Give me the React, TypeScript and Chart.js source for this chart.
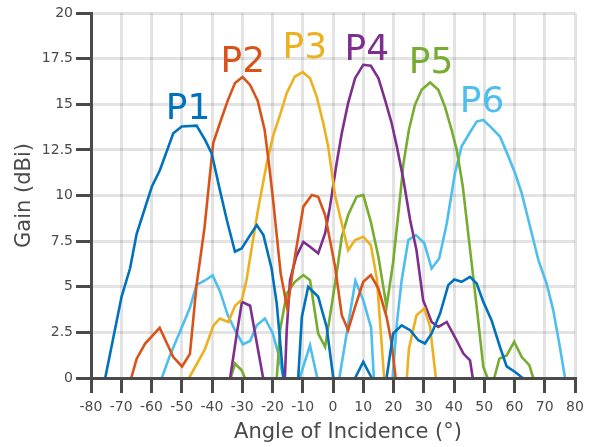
import React, { useEffect, useRef } from "react";
import { Chart, registerables } from "chart.js";

Chart.register(...registerables);

const seriesNames = ["P1", "P2", "P3", "P4", "P5", "P6"];
const seriesColors = ["#0072BD", "#D95319", "#EDB120", "#7E2F8E", "#77AC30", "#4DBEEE"];

// angle (deg) / gain (dBi); null gain = break in the curve
const p1Angle = [-75.3, -69.9, -67.1, -64.9, -59.9, -57.2, -52.8, -50.0, -45.1, -42.3, -40.1, -37.4, -35.1, -32.4, -30.2, -27.4, -25.2, -23.0, -20.3, -18.6, -16.4, -14, -11.5, -10.3, -8.2, -4.9, -2.1, 0.1, 3.5, 7.3, 10.0, 12.8, 15, 17.7, 19.9, 22.7, 25.5, 28.2, 30.4, 32.6, 35.4, 38.1, 40.1, 42.5, 45.3, 47.5, 49.7, 52.4, 55.2, 57.4, 60.2, 62.7];
const p1Gain = [0, 4.45, 6.0, 7.9, 10.48, 11.4, 13.41, 13.78, 13.83, 13.05, 12.3, 10.3, 8.66, 6.92, 7.1, 7.83, 8.38, 7.83, 6.0, 4.08, 0, null, 0, 3.35, 5.0, 4.45, 2.8, 0, null, 0, 0.88, 0, null, 0, 2.44, 2.89, 2.62, 2.07, 1.89, 2.44, 3.53, 5.09, 5.4, 5.27, 5.54, 5.18, 4.17, 3.17, 1.7, 0.64, 0.33, 0];

const p2Angle = [-66.7, -64.9, -62.1, -57.3, -52.8, -49.9, -47.3, -45.1, -42.5, -39.6, -37.4, -34.8, -32.4, -29.9, -27.4, -24.9, -22.6, -21.0, -19.7, -17.3, -15.1, -12.6, -9.8, -7.0, -4.9, -2.6, 0.7, 2.9, 5.0, 7.3, 10.0, 12.5, 15.0, 17.7, 19.4, 20.7];
const p2Gain = [0, 1.06, 1.89, 2.75, 1.15, 0.63, 1.32, 5.1, 8.2, 12.87, 13.96, 15.2, 16.16, 16.49, 16.06, 15.2, 13.6, 11.5, 9.6, 5.73, 3.81, 6.64, 9.39, 10.03, 9.93, 8.93, 6.09, 3.44, 2.62, 3.9, 5.27, 5.64, 4.9, 3.35, 1.89, 0];

const p3Angle = [-47.6, -42.4, -39.6, -37.4, -34.6, -32.4, -30.1, -28.6, -27.0, -24.7, -21.9, -19.7, -17.5, -15.3, -12.6, -10.0, -7.6, -5.4, -3.2, -1.6, 0.7, 2.9, 5.0, 7.3, 10.0, 12.5, 14.5, 15.6, 16.9, 20, 24.4, 25.1, 27.6, 30.2, 32.1, 34.0];
const p3Gain = [0, 1.55, 2.85, 3.26, 3.07, 3.95, 4.3, 5.36, 7.0, 9.3, 11.77, 13.32, 14.42, 15.61, 16.52, 16.76, 16.43, 15.42, 13.96, 12.68, 10.0, 8.47, 7.0, 7.56, 7.74, 7.28, 5.45, 2.98, 0, null, 0, 1.61, 3.44, 3.81, 2.8, 0];

const p4Angle = [-34.0, -31.8, -30.1, -27.4, -25.5, -23.1, -20, -15.9, -15.3, -14.2, -12.2, -9.8, -7.6, -4.9, -2.6, -1.0, 1.2, 2.9, 5.0, 7.3, 10.0, 12.5, 15.0, 17.2, 19.4, 21.1, 23.3, 25.5, 27.6, 29.8, 32.6, 34.8, 37.6, 40.6, 43.1, 45.3, 46.2];
const p4Gain = [0, 2.44, 4.17, 3.96, 2.2, 0, null, 0, 2.62, 5.36, 6.64, 7.46, 7.19, 6.83, 7.93, 9.39, 11.77, 13.41, 15.06, 16.43, 17.16, 17.11, 16.43, 15.24, 13.96, 12.68, 10.85, 8.66, 7.0, 4.26, 3.07, 2.8, 3.07, 2.15, 1.34, 0.97, 0];

const p5Angle = [-33.8, -32.4, -30.2, -29.1, -25, -18.6, -17.5, -15.3, -12.6, -9.8, -7.6, -4.9, -2.6, 1.2, 2.9, 5.0, 7.8, 10.0, 12.5, 15.0, 17.7, 19.9, 22.3, 23.3, 25.1, 27.1, 29.3, 32.1, 34.8, 37.0, 39.2, 40.9, 42.9, 47.5, 49.7, 51.1, 52, 53.3, 55.0, 57.4, 59.9, 62.4, 64.9, 66.2];
const p5Gain = [0, 0.79, 0.42, 0, null, 0, 2.62, 4.63, 5.27, 5.64, 5.36, 2.44, 1.7, 5.73, 7.74, 8.93, 9.93, 10.03, 8.56, 6.64, 3.9, 6.37, 10.1, 11.77, 13.6, 14.97, 15.79, 16.19, 15.79, 14.87, 13.6, 12.5, 10.5, 3.9, 0.6, 0, null, 0, 1.06, 1.24, 1.98, 1.15, 0.7, 0];

const p6Angle = [-56.6, -53.9, -50.6, -47.3, -45.1, -42.5, -39.8, -37.4, -34.8, -32.4, -29.8, -27.4, -25.2, -22.5, -19.9, -18.1, -16.4, -14, -11.0, -7.6, -5.2, -2, 2.1, 7.4, 10.0, 12.6, 13.5, 16, 19.7, 21.1, 22.7, 24.9, 27.4, 30.2, 32.6, 35.1, 37.6, 40.3, 42.5, 45.1, 47.5, 49.7, 52.5, 55.2, 58.0, 60.2, 62.4, 64.6, 66.5, 67.9, 70.6, 72.8, 75.0, 76.7];
const p6Gain = [0, 1.24, 2.53, 3.85, 5.1, 5.33, 5.62, 4.77, 3.45, 2.62, 1.85, 2.03, 2.89, 3.26, 2.44, 1.34, 0, null, 0, 1.79, 0, null, 0, 5.33, 4.26, 2.75, 0, null, 0, 2.98, 5.36, 7.56, 7.83, 7.38, 6.0, 6.55, 8.47, 11.22, 12.68, 13.41, 14.05, 14.14, 13.69, 13.23, 12.13, 11.22, 10.12, 8.66, 7.4, 6.46, 5.18, 3.72, 1.7, 0];

const seriesAngles = [p1Angle, p2Angle, p3Angle, p4Angle, p5Angle, p6Angle];
const seriesGains = [p1Gain, p2Gain, p3Gain, p4Gain, p5Gain, p6Gain];

// label anchors (angle, gain at text baseline)
const labelAngle = [-47.9, -29.8, -9.3, 11.2, 32.4, 49.3];
const labelGain = [14.18, 16.78, 17.55, 17.44, 16.72, 14.58];

const xTitle = "Angle of Incidence (°)";
const yTitle = "Gain (dBi)";
const xMin = -80, xMax = 80, xStep = 10;
const yMin = 0, yMax = 20, yStep = 2.5;

const FONT = "'DejaVu Sans', Verdana, sans-serif";
const AXIS = "#4a4a4a";

const textPlugin = {
  id: "textPlugin",
  afterDraw(chart: any) {
    const ctx = chart.ctx;
    const xs = chart.scales.x;
    const ys = chart.scales.y;
    const area = chart.chartArea;
    ctx.save();
    ctx.font = `36px ${FONT}`;
    ctx.textAlign = "center";
    ctx.textBaseline = "alphabetic";
    seriesNames.forEach((n, i) => {
      ctx.fillStyle = seriesColors[i];
      ctx.fillText(n, xs.getPixelForValue(labelAngle[i]), ys.getPixelForValue(labelGain[i]));
    });
    ctx.fillStyle = AXIS;
    ctx.font = `21px ${FONT}`;
    ctx.textBaseline = "middle";
    ctx.fillText(xTitle, (area.left + area.right) / 2 + 15, area.bottom + 55);
    ctx.translate(25, (area.top + area.bottom) / 2);
    ctx.rotate(-Math.PI / 2);
    ctx.fillText(yTitle, 0, 0);
    ctx.restore();
  },
};

export default function App() {
  const ref = useRef<HTMLCanvasElement>(null);
  useEffect(() => {
    if (!ref.current) return;
    const datasets = seriesNames.map((n, i) => ({
      label: n,
      data: seriesAngles[i].map((a, j) => ({ x: a, y: seriesGains[i][j] })),
      borderColor: seriesColors[i],
      backgroundColor: seriesColors[i],
      borderWidth: 2.6,
      pointRadius: 0,
      tension: 0,
      spanGaps: false,
      clip: 4,
    }));
    const chart = new Chart(ref.current, {
      type: "line",
      data: { datasets },
      plugins: [textPlugin],
      options: {
        animation: false,
        responsive: false,
        layout: { padding: { left: 0, top: 13, right: 22, bottom: 0 } },
        plugins: { legend: { display: false }, tooltip: { enabled: false } },
        scales: {
          x: {
            type: "linear",
            min: xMin,
            max: xMax,
            afterFit: (s: any) => { s.height = 69; },
            ticks: {
              stepSize: xStep,
              color: AXIS,
              font: { family: FONT, size: 14 },
              padding: 6,
              maxRotation: 0,
              callback: (v: any) => String(v),
            },
            grid: { color: "rgba(0,0,0,0.11)", lineWidth: 3, tickColor: AXIS, tickWidth: 3, tickLength: 15 },
            border: { color: AXIS, width: 3, z: 1 },
          },
          y: {
            type: "linear",
            min: yMin,
            max: yMax,
            afterFit: (s: any) => { s.width = 91; },
            ticks: {
              stepSize: yStep,
              color: AXIS,
              font: { family: FONT, size: 14 },
              padding: 3,
              callback: (v: any) => String(v),
            },
            grid: { color: "rgba(0,0,0,0.11)", lineWidth: 3, tickColor: AXIS, tickWidth: 3, tickLength: 15 },
            border: { color: AXIS, width: 3, z: 1 },
          },
        },
      },
    });
    return () => chart.destroy();
  }, []);
  return (
    <div style={{ position: "fixed", left: 0, top: 0, width: 597, height: 447, background: "#fff" }}>
      <canvas ref={ref} width={597} height={447} style={{ width: 597, height: 447 }} />
    </div>
  );
}
